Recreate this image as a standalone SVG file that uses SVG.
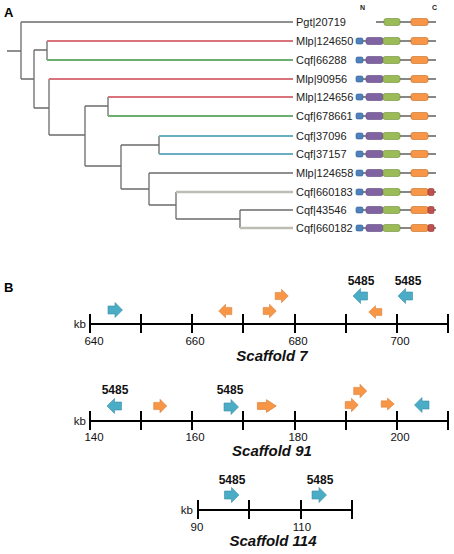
<svg xmlns="http://www.w3.org/2000/svg" xmlns:xlink="http://www.w3.org/1999/xlink" width="454" height="554" viewBox="0 0 454 554">
<style>
.t{stroke:#6b6b6b;stroke-width:1.3;fill:none}
.red{stroke:#d9737b;stroke-width:2.2;fill:none}
.grn{stroke:#6fae6f;stroke-width:2.2;fill:none}
.blu{stroke:#6aaebf;stroke-width:2.2;fill:none}
.lg{stroke:#bdbdb4;stroke-width:2.4;fill:none}
.lab{font-family:"Liberation Sans",Arial,sans-serif;font-size:11px;fill:#222}
.hd{font-family:"Liberation Sans",Arial,sans-serif;font-size:13px;font-weight:bold;fill:#000}
.nc{font-family:"Liberation Sans",Arial,sans-serif;font-size:7px;font-weight:bold;fill:#222}
.bb{stroke:#111;stroke-width:1.2}
.dB{fill:#4f81bd;stroke:#2f5f95;stroke-width:0.6}
.dP{fill:#8064a2;stroke:#5c4680;stroke-width:0.6}
.dG{fill:#9bbb59;stroke:#6f8f35;stroke-width:0.6}
.dO{fill:#f79646;stroke:#c46a20;stroke-width:0.6}
.dR{fill:#c0504d;stroke:#8f2f2c;stroke-width:0.6}
.ax{stroke:#000;stroke-width:2;fill:none}
.tk{font-family:"Liberation Sans",Arial,sans-serif;font-size:11.5px;fill:#111;text-anchor:middle}
.kb{font-family:"Liberation Sans",Arial,sans-serif;font-size:11.5px;fill:#111;text-anchor:end}
.gn{font-family:"Liberation Sans",Arial,sans-serif;font-size:12px;font-weight:bold;fill:#111;text-anchor:middle}
.sc{font-family:"Liberation Sans",Arial,sans-serif;font-size:15px;font-weight:bold;font-style:italic;fill:#111;text-anchor:middle}
.ab{fill:#4bacc6;stroke:#3a8ea6;stroke-width:0.6}
.ao{fill:#f79646;stroke:#d9782e;stroke-width:0.6}
</style>
<defs>
<path id="ra" d="M-7,-4 H0 V-7.5 L7.5,0 L0,7.5 V4 H-7 Z"/>
<g id="dom">
<line class="bb" x1="359" y1="0" x2="436" y2="0"/>
<rect class="dB" x="356" y="-3" width="7" height="6" rx="1.5"/>
<rect class="dP" x="366" y="-3.5" width="17" height="7" rx="2"/>
<rect class="dG" x="383" y="-3.5" width="17" height="7" rx="2"/>
<rect class="dO" x="411" y="-3.5" width="17" height="7" rx="2"/>
</g>
<g id="domr">
<line class="bb" x1="359" y1="0" x2="436" y2="0"/>
<rect class="dB" x="356" y="-3" width="7" height="6" rx="1.5"/>
<rect class="dP" x="366" y="-3.5" width="17" height="7" rx="2"/>
<rect class="dG" x="383" y="-3.5" width="17" height="7" rx="2"/>
<rect class="dO" x="411" y="-3.5" width="17" height="7" rx="2"/>
<rect class="dR" x="428" y="-3.5" width="6" height="7" rx="1.5"/>
</g>
</defs>
<rect width="454" height="554" fill="#fff"/>
<text class="hd" x="4" y="17">A</text>
<text class="nc" x="360" y="10">N</text>
<text class="nc" x="432" y="10">C</text>
<g id="connectors">
<path class="t" d="M7,51 H21 M21,22 V79 M21,22 H293 M21,79 H34 M34,50 V108 M34,50 H47 M47,41 V60 M34,108 H49 M49,79 V135 M49,135 H85 M85,106 V166 M85,106 H108 M108,97 V116 M85,166 H121 M121,145 V189 M121,145 H159 M159,136 V154 M121,189 H149 M149,173 V205 M149,173 H293 M149,205 H176 M176,192 V219 M176,219 H240 M240,210 V228 M240,210 H293"/>
<path class="red" d="M47,41 H293 M49,79 H293 M108,97 H293"/>
<path class="grn" d="M47,60 H293 M108,116 H293"/>
<path class="blu" d="M159,136 H293 M159,154 H293"/>
<path class="lg" d="M176,192 H293 M240,228 H293"/>
</g>
<g id="n-pgt20719"><text class="lab" x="296" y="26">Pgt|20719</text>
<line class="bb" x1="376" y1="22" x2="436" y2="22"/>
<rect class="dG" x="384" y="18.5" width="16" height="7" rx="2"/>
<rect class="dO" x="411" y="18.5" width="17" height="7" rx="2"/></g>
<g id="n-mlp124650"><text class="lab" x="296" y="45">Mlp|124650</text><use href="#dom" y="41"/></g>
<g id="n-cqf66288"><text class="lab" x="296" y="64">Cqf|66288</text><use href="#dom" y="60"/></g>
<g id="n-mlp90956"><text class="lab" x="296" y="83">Mlp|90956</text><use href="#dom" y="79"/></g>
<g id="n-mlp124656"><text class="lab" x="296" y="101">Mlp|124656</text><use href="#dom" y="97"/></g>
<g id="n-cqf678661"><text class="lab" x="296" y="120">Cqf|678661</text><use href="#dom" y="116"/></g>
<g id="n-cqf37096"><text class="lab" x="296" y="140">Cqf|37096</text><use href="#dom" y="136"/></g>
<g id="n-cqf37157"><text class="lab" x="296" y="158">Cqf|37157</text><use href="#dom" y="154"/></g>
<g id="n-mlp124658"><text class="lab" x="296" y="177">Mlp|124658</text><use href="#dom" y="173"/></g>
<g id="n-cqf660183"><text class="lab" x="296" y="196">Cqf|660183</text><use href="#domr" y="192"/></g>
<g id="n-cqf43546"><text class="lab" x="296" y="214">Cqf|43546</text><use href="#domr" y="210"/></g>
<g id="n-cqf660182"><text class="lab" x="296" y="232">Cqf|660182</text><use href="#domr" y="228"/></g>

<text class="hd" x="4" y="292">B</text>
<g id="scaffold7">
<path class="ax" d="M90,324 H449 M90,314 V333 M141,314 V333 M192,314 V333 M243,314 V333 M295,314 V333 M346,314 V333 M397,314 V333 M448,314 V333"/>
<text class="kb" x="86" y="328">kb</text>
<text class="tk" x="94" y="345">640</text>
<text class="tk" x="195" y="345">660</text>
<text class="tk" x="298" y="345">680</text>
<text class="tk" x="400" y="345">700</text>
<text class="sc" x="272" y="361">Scaffold 7</text>
<use href="#ra" class="ab" transform="translate(115,310)"/>
<use href="#ra" class="ao" transform="translate(225.5,311) scale(-0.9,0.9)"/>
<use href="#ra" class="ao" transform="translate(269.5,311) scale(0.9)"/>
<use href="#ra" class="ao" transform="translate(281.5,296) scale(0.9)"/>
<use href="#ra" class="ab" transform="translate(360.5,296) scale(-1,1)"/>
<use href="#ra" class="ao" transform="translate(375.5,312) scale(-0.9,0.85)"/>
<use href="#ra" class="ab" transform="translate(405.5,296) scale(-1,1)"/>
<text class="gn" x="361" y="285">5485</text>
<text class="gn" x="408" y="285">5485</text>
</g>
<g id="scaffold91">
<path class="ax" d="M90,421 H449 M90,411 V430 M141,411 V430 M192,411 V430 M243,411 V430 M295,411 V430 M346,411 V430 M397,411 V430 M448,411 V430"/>
<text class="kb" x="86" y="425">kb</text>
<text class="tk" x="94" y="441">140</text>
<text class="tk" x="195" y="441">160</text>
<text class="tk" x="298" y="441">180</text>
<text class="tk" x="400" y="441">200</text>
<text class="sc" x="272" y="456">Scaffold 91</text>
<use href="#ra" class="ab" transform="translate(114.5,406) scale(-1,1)"/>
<use href="#ra" class="ao" transform="translate(160,406) scale(0.9)"/>
<use href="#ra" class="ab" transform="translate(231,407)"/>
<use href="#ra" class="ao" transform="translate(266.5,406) scale(1.3,0.85)"/>
<use href="#ra" class="ao" transform="translate(351.5,405) scale(0.9)"/>
<use href="#ra" class="ao" transform="translate(360,391) scale(0.9)"/>
<use href="#ra" class="ao" transform="translate(387.5,404) scale(0.9,0.8)"/>
<use href="#ra" class="ab" transform="translate(422,405) scale(-1,1)"/>
<text class="gn" x="115" y="394">5485</text>
<text class="gn" x="230" y="394">5485</text>
</g>
<g id="scaffold114">
<path class="ax" d="M198,510 H353 M198,500 V519 M249,500 V519 M301,500 V519 M352,500 V519"/>
<text class="kb" x="193" y="514">kb</text>
<text class="tk" x="197" y="531">90</text>
<text class="tk" x="302" y="531">110</text>
<text class="sc" x="273" y="546">Scaffold 114</text>
<use href="#ra" class="ab" transform="translate(231.5,495)"/>
<use href="#ra" class="ab" transform="translate(319,495)"/>
<text class="gn" x="232" y="484">5485</text>
<text class="gn" x="320" y="484">5485</text>
</g>
</svg>
